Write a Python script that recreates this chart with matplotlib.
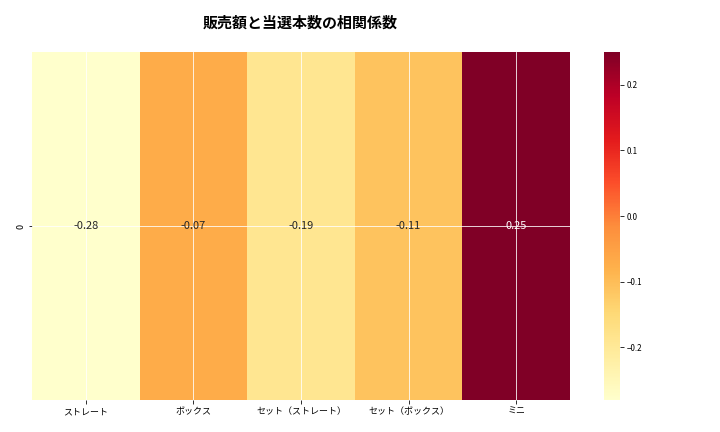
import numpy as np
import matplotlib
matplotlib.use("Agg")
import matplotlib.pyplot as plt

plt.rcParams["font.family"] = "Noto Sans CJK JP"
plt.rcParams["axes.unicode_minus"] = True

categories = ["ストレート", "ボックス", "セット（ストレート）", "セット（ボックス）", "ミニ"]
row_labels = ["0"]
values = [-0.28, -0.07, -0.19, -0.11, 0.25]

data = np.array([values])
fig = plt.figure(figsize=(10, 6), dpi=72)
ax = fig.add_axes([32/720, 32/432, 538/720, 348/432])
cax = fig.add_axes([604/720, 32/432, 16/720, 348/432])
vmin, vmax = data.min(), data.max()
mesh = ax.pcolormesh(data, cmap="YlOrRd", vmin=vmin, vmax=vmax)
ax.set_xlim(0, len(categories)); ax.set_ylim(1, 0)
ax.set_xticks(np.arange(len(categories)) + 0.5)
ax.set_xticklabels(categories, fontsize=9)
ax.set_yticks([0.5]); ax.set_yticklabels(row_labels, fontsize=9, rotation=90, va="center")
for x in np.arange(len(categories)) + 0.5:
    ax.axvline(x, color="white", lw=0.8)
ax.axhline(0.5, color="white", lw=0.8)
for s in ax.spines.values():
    s.set_visible(False)
norm = plt.Normalize(vmin, vmax)
for i, v in enumerate(values):
    c = "white" if norm(v) > 0.6 else "#262626"
    ax.text(i + 0.5, 0.5, f"{v:.2f}", ha="center", va="center", fontsize=11, color=c)
cb = fig.colorbar(mesh, cax=cax)
cb.outline.set_visible(False)
cb.set_ticks([-0.2, -0.1, 0.0, 0.1, 0.2])
cb.ax.tick_params(labelsize=8)
fig.suptitle("販売額と当選本数の相関係数", x=300/720, y=0.965, fontsize=15, fontweight="bold")
fig.savefig("out.png", dpi=72)
